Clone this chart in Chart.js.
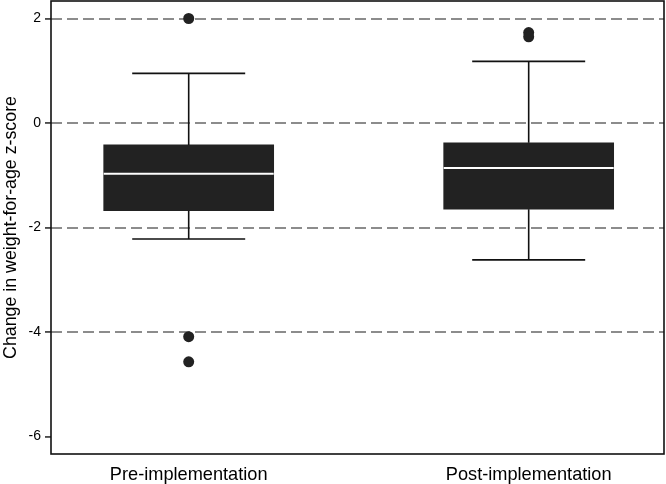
<!DOCTYPE html>
<html>
<head>
<meta charset="utf-8">
<script src="https://cdn.jsdelivr.net/npm/chart.js@4"></script>
<style>
  html, body { margin: 0; padding: 0; background: #fff; }
  #wrap { width: 666px; height: 484px; }
</style>
</head>
<body>
<div id="wrap"><canvas id="boxChart"></canvas></div>
<script>
// --- data ---
const groups = ['Pre-implementation', 'Post-implementation'];
const whiskerLow = [-2.22, -2.62];
const q1 = [-1.68, -1.65];
const medians = [-0.97, -0.86];
const q3 = [-0.42, -0.38];
const whiskerHigh = [0.95, 1.18];
const outliers = [[2.0, -4.09, -4.57], [1.73, 1.65]];
const yTicks = [-6, -4, -2, 0, 2];

const FONT = "'Liberation Sans', Arial, sans-serif";
const BOX_COLOR = '#222222';

// whiskers, caps and median line drawn on top of the bars
const boxParts = {
    id: 'boxParts',
    afterDatasetsDraw(chart) {
        const { ctx, scales: { x, y } } = chart;
        const capHalf = 56.5, boxHalf = 85;
        ctx.save();
        groups.forEach((g, i) => {
            const cx = x.getPixelForValue(i + 1);
            ctx.strokeStyle = '#111';
            ctx.lineWidth = 1.6;
            ctx.beginPath();
            ctx.moveTo(cx, y.getPixelForValue(q3[i]));
            ctx.lineTo(cx, y.getPixelForValue(whiskerHigh[i]));
            ctx.moveTo(cx, y.getPixelForValue(q1[i]));
            ctx.lineTo(cx, y.getPixelForValue(whiskerLow[i]));
            ctx.moveTo(cx - capHalf, y.getPixelForValue(whiskerHigh[i]));
            ctx.lineTo(cx + capHalf, y.getPixelForValue(whiskerHigh[i]));
            ctx.moveTo(cx - capHalf, y.getPixelForValue(whiskerLow[i]));
            ctx.lineTo(cx + capHalf, y.getPixelForValue(whiskerLow[i]));
            ctx.stroke();

            ctx.strokeStyle = '#fff';
            ctx.lineWidth = 2;
            ctx.beginPath();
            ctx.moveTo(cx - boxHalf, y.getPixelForValue(medians[i]));
            ctx.lineTo(cx + boxHalf, y.getPixelForValue(medians[i]));
            ctx.stroke();
        });
        ctx.restore();
    },
    afterDraw(chart) {
        const { ctx, chartArea: a } = chart;
        ctx.save();
        ctx.strokeStyle = '#111';
        ctx.lineWidth = 1.6;
        ctx.strokeRect(a.left, a.top, a.right - a.left, a.bottom - a.top);
        ctx.restore();
    }
};

const ctx = document.getElementById('boxChart').getContext('2d');
new Chart(ctx, {
    type: 'bar',
    data: {
        datasets: [
            {
                type: 'bar',
                data: groups.map((g, i) => ({ x: i + 1, y: [q1[i], q3[i]] })),
                backgroundColor: BOX_COLOR,
                borderWidth: 0,
                barThickness: 170,
            },
            {
                type: 'scatter',
                data: outliers.flatMap((vals, i) => vals.map(v => ({ x: i + 1, y: v }))),
                backgroundColor: BOX_COLOR,
                borderWidth: 0,
                pointRadius: 5.5,
            }
        ]
    },
    options: {
        responsive: true,
        maintainAspectRatio: false,
        animation: false,
        layout: { autoPadding: false, padding: { top: 1, right: 2, left: 0, bottom: 0 } },
        plugins: { legend: { display: false }, tooltip: { enabled: false } },
        scales: {
            x: {
                type: 'linear',
                min: 0.595,
                max: 2.398,
                offset: false,
                afterBuildTicks: scale => { scale.ticks = groups.map((g, i) => ({ value: i + 1 })); },
                afterFit: scale => {
                    scale.height = 30;
                    scale.paddingLeft = 0;
                    scale.paddingRight = 0;
                },
                ticks: {
                    callback: v => groups[v - 1],
                    autoSkip: false,
                    maxRotation: 0,
                    padding: 10,
                    color: '#000',
                    font: { family: FONT, size: 18.2 }
                },
                grid: { display: false, drawTicks: false },
                border: { display: false }
            },
            y: {
                type: 'linear',
                min: -6.335,
                max: 2.335,
                beginAtZero: false,
                afterBuildTicks: scale => { scale.ticks = yTicks.map(v => ({ value: v })); },
                afterFit: scale => {
                    scale.width = 51;
                    scale.paddingTop = 0;
                    scale.paddingBottom = 0;
                },
                ticks: {
                    callback: v => String(v),
                    padding: 4,
                    color: '#000',
                    font: { family: FONT, size: 14 }
                },
                grid: {
                    color: c => (c.tick && c.tick.value === -6 ? 'rgba(0,0,0,0)' : '#8c8c8c'),
                    lineWidth: 1.9,
                    tickColor: '#111',
                    tickLength: 6,
                    tickWidth: 1.4
                },
                border: { display: false, dash: [11, 5] },
                title: {
                    display: true,
                    text: 'Change in weight-for-age z-score',
                    color: '#000',
                    padding: 0,
                    font: { family: FONT, size: 17.8 }
                }
            }
        }
    },
    plugins: [boxParts]
});
</script>
</body>
</html>
